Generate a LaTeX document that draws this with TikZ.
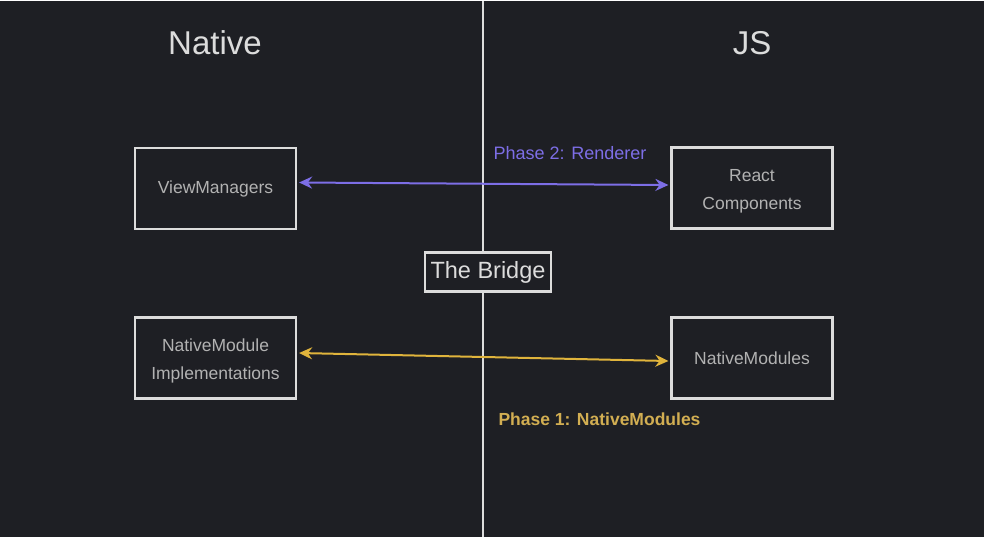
\documentclass[tikz,border=0pt]{standalone}
\usepackage{fontspec}
\setmainfont{Liberation Sans}
\usepackage{tikz}
\usetikzlibrary{arrows.meta}
\definecolor{board}{HTML}{1E1F24}
\definecolor{chalk}{HTML}{DCDCDC}
\definecolor{label}{HTML}{B2B2B2}
\definecolor{violet}{HTML}{7D6EE6}
\definecolor{amber}{HTML}{E0B43C}
\definecolor{amberText}{HTML}{D2AE52}

\begin{document}
\begin{tikzpicture}[x=1pt, y=-1pt,
  box/.style={draw=chalk, line width=2.2pt, fill=board, minimum width=161pt,
              minimum height=81pt, align=center, text=label,
              font=\fontsize{17.5}{28}\selectfont},
  side/.style={text=chalk, font=\fontsize{33}{36}\selectfont},
  link/.style={line width=2pt, {Stealth[length=13pt,width=12pt]}-{Stealth[length=13pt,width=12pt]}}]
\fill[board] (0,0) rectangle (984,536);
% divider
\coordinate (top) at (483,0);
\coordinate (bottom) at (483,536);
\draw[chalk, line width=2pt] (top) -- (bottom);
% sides
\node[side] (native) at (215,42) {Native};
\node[side] (js) at (752,42) {JS};
% boxes
\node[box] (vm) at (215.5,187.5) {ViewManagers};
\node[box] (rc) at (752,187) {\strut React\\Components};
\node[box] (nmi) at (215.5,357) {\strut NativeModule\\Implementations};
\node[box] (nm) at (752,357) {NativeModules};
\node[draw=chalk, line width=2.2pt, fill=board, minimum width=126pt, minimum height=39pt,
      text=chalk, font=\fontsize{23.5}{24}\selectfont] (bridge) at (488,271) {The Bridge};
% phases
\draw[link, violet] ([yshift=6pt,xshift=2pt]vm.east) -- ([yshift=3pt,xshift=-2pt]rc.west);
\node[text=violet, font=\fontsize{18}{20}\selectfont] (p2) at (570,152) {Phase 2: Renderer};
\draw[link, amber] ([yshift=5pt,xshift=2pt]nmi.east) -- ([yshift=-3pt,xshift=-2pt]nm.west);
\node[text=amberText, font=\bfseries\fontsize{17.5}{20}\selectfont] (p1) at (599.5,418) {Phase 1: NativeModules};
\end{tikzpicture}
\end{document}
